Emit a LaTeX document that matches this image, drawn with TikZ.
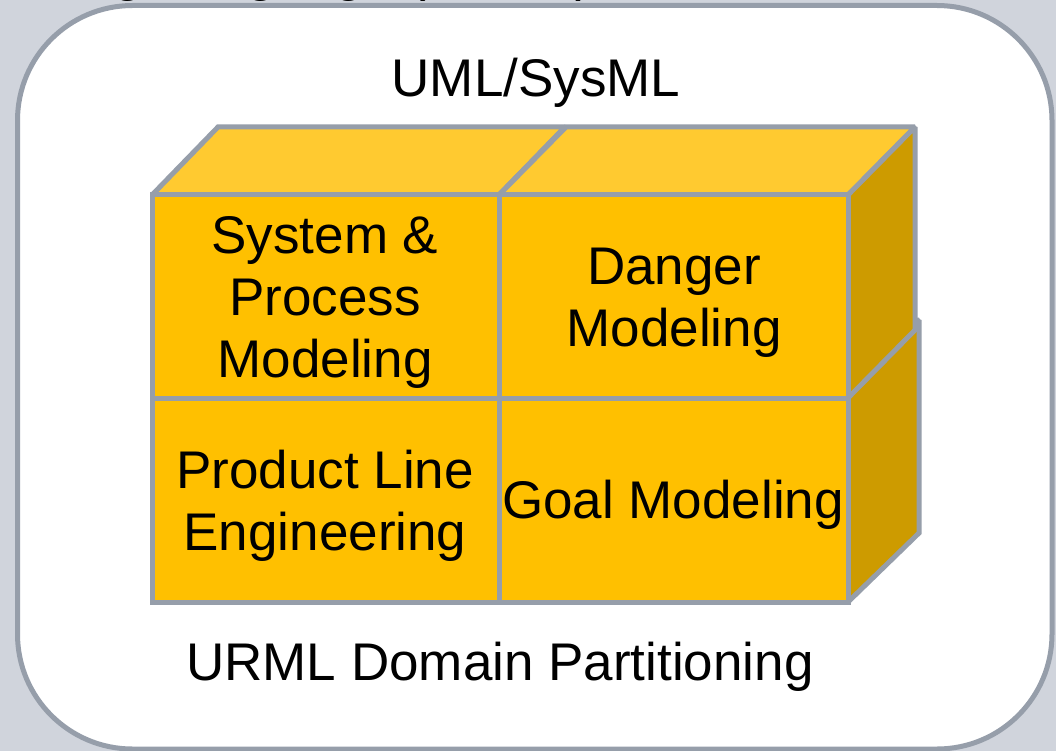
\documentclass[tikz,border=0pt]{standalone}
\usepackage{fontspec}
\setmainfont{Liberation Sans}

\definecolor{pagegray}{RGB}{208,212,220}
\definecolor{edgegray}{RGB}{150,158,170}
\definecolor{cubefront}{RGB}{255,192,0}
\definecolor{cubetop}{RGB}{255,202,48}
\definecolor{cubeside}{RGB}{205,155,0}

% one box of the partition: front face (#1,#2)-(#3,#4), receding by (#5,#6)
\newcommand{\partbox}[6]{%
  \draw[cubeedge, fill=cubetop]  (#1,#2) -- (#1+#5,#2+#6) -- (#3+#5,#2+#6) -- (#3,#2) -- cycle;
  \draw[cubeedge, fill=cubeside] (#3,#2) -- (#3+#5,#2+#6) -- (#3+#5,#4+#6) -- (#3,#4) -- cycle;
  \draw[cubeedge, fill=cubefront] (#1,#2) rectangle (#3,#4);
}

\begin{document}
\begin{tikzpicture}[x=1pt, y=-1pt,
  cubeedge/.style={draw=edgegray, line width=5pt, line join=miter, miter limit=2},
  label/.style={font=\fontsize{53}{62}\selectfont, text=black, inner sep=0pt},
  celltext/.style={label, align=center}]

  % page
  \useasboundingbox (0,0) rectangle (1056,751);
  \fill[pagegray] (0,0) rectangle (1056,751);

  % rounded frame
  \draw[edgegray, line width=5pt, fill=white, rounded corners=115pt]
    (17.5,5.5) rectangle (1052,749);

  % heading sitting above the frame
  \node[label, anchor=base east] (heading) at (594,-9.5) {Modeling Language (URML)};

  \node[label, anchor=base] (uml) at (536,97) {UML/SysML};

  % lower row of boxes
  \partbox{152}{389}{499}{602}{70}{-69}
  \partbox{499}{389}{848}{602}{71}{-69}
  % upper row of boxes
  \partbox{152}{195}{499}{398}{66}{-68}
  \partbox{499}{195}{848}{398}{67}{-68}

  % cell labels
  \node[celltext] (sysproc) at (325,302) {System \&\\Process\\Modeling};
  \node[celltext] (danger)  at (674,303) {Danger\\Modeling};
  \node[celltext] (ple)     at (325,506) {Product Line\\Engineering};
  \node[label, anchor=base] (goal) at (673,518) {Goal Modeling};

  \node[label, anchor=base] (urml) at (500,680) {URML Domain Partitioning};
\end{tikzpicture}
\end{document}
